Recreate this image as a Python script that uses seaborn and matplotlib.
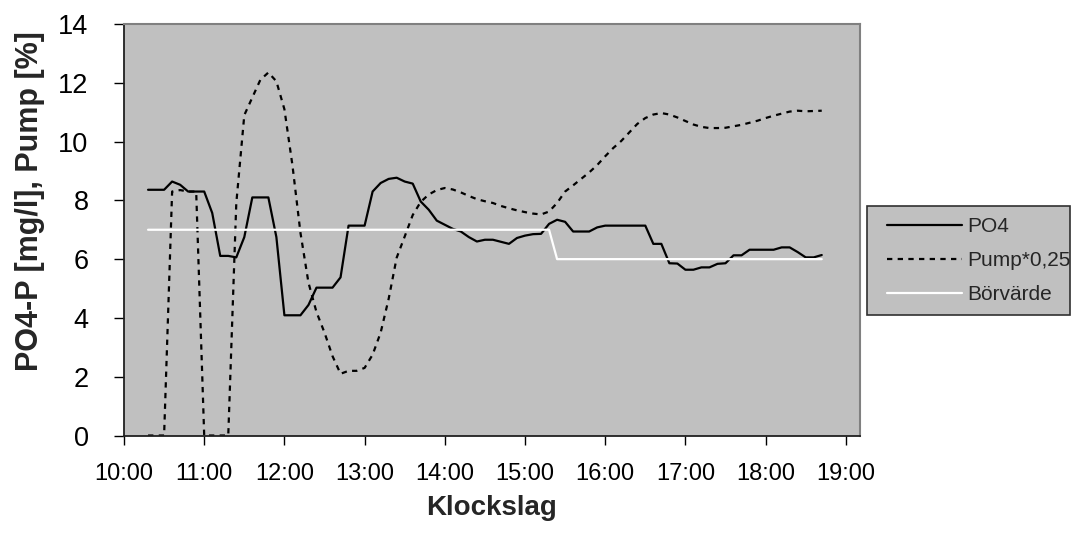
import matplotlib
matplotlib.use("Agg")
import matplotlib.pyplot as plt
from matplotlib.lines import Line2D
from matplotlib.patches import Rectangle
import seaborn as sns
import pandas as pd

# ---------------- data ----------------
times = [
    "10:18", "10:24", "10:30", "10:36", "10:42", "10:48", "10:54", "11:00", "11:06", "11:12",
    "11:18", "11:24", "11:30", "11:36", "11:42", "11:48", "11:54", "12:00", "12:06", "12:12",
    "12:18", "12:24", "12:30", "12:36", "12:42", "12:48", "12:54", "13:00", "13:06", "13:12",
    "13:18", "13:24", "13:30", "13:36", "13:42", "13:48", "13:54", "14:00", "14:06", "14:12",
    "14:18", "14:24", "14:30", "14:36", "14:42", "14:48", "14:54", "15:00", "15:06", "15:12",
    "15:18", "15:24", "15:30", "15:36", "15:42", "15:48", "15:54", "16:00", "16:06", "16:12",
    "16:18", "16:24", "16:30", "16:36", "16:42", "16:48", "16:54", "17:00", "17:06", "17:12",
    "17:18", "17:24", "17:30", "17:36", "17:42", "17:48", "17:54", "18:00", "18:06", "18:12",
    "18:18", "18:24", "18:30", "18:36", "18:42",
]

po4 = [
    8.36, 8.36, 8.36, 8.64, 8.53, 8.30, 8.30, 8.30, 7.57, 6.11,
    6.11, 6.06, 6.75, 8.10, 8.10, 8.10, 6.75, 4.09, 4.09, 4.09,
    4.44, 5.03, 5.03, 5.03, 5.38, 7.14, 7.14, 7.14, 8.30, 8.59,
    8.73, 8.77, 8.64, 8.57, 7.96, 7.68, 7.31, 7.17, 7.03, 6.94,
    6.75, 6.60, 6.66, 6.66, 6.59, 6.52, 6.72, 6.80, 6.85, 6.86,
    7.20, 7.34, 7.27, 6.94, 6.94, 6.94, 7.08, 7.14, 7.14, 7.14,
    7.14, 7.14, 7.14, 6.52, 6.52, 5.86, 5.85, 5.64, 5.64, 5.72,
    5.72, 5.84, 5.86, 6.13, 6.13, 6.32, 6.32, 6.32, 6.32, 6.40,
    6.40, 6.24, 6.06, 6.06, 6.14,
]

pump = [
    0.00, 0.00, 0.00, 8.30, 8.35, 8.30, 8.30, 0.00, 0.00, 0.00,
    0.00, 7.90, 10.90, 11.50, 12.10, 12.35, 12.05, 11.10, 9.20, 6.90,
    5.20, 4.20, 3.50, 2.70, 2.10, 2.20, 2.20, 2.30, 2.75, 3.50,
    4.65, 6.05, 6.77, 7.50, 7.95, 8.20, 8.35, 8.42, 8.37, 8.27,
    8.15, 8.04, 7.97, 7.91, 7.81, 7.73, 7.66, 7.60, 7.55, 7.52,
    7.62, 7.91, 8.30, 8.51, 8.73, 8.95, 9.20, 9.50, 9.78, 10.02,
    10.31, 10.60, 10.80, 10.92, 10.97, 10.92, 10.82, 10.70, 10.58, 10.50,
    10.46, 10.46, 10.47, 10.52, 10.57, 10.64, 10.71, 10.80, 10.88, 10.95,
    11.02, 11.05, 11.03, 11.04, 11.05,
]

borvarde = [
    7, 7, 7, 7, 7, 7, 7, 7, 7, 7,
    7, 7, 7, 7, 7, 7, 7, 7, 7, 7,
    7, 7, 7, 7, 7, 7, 7, 7, 7, 7,
    7, 7, 7, 7, 7, 7, 7, 7, 7, 7,
    7, 7, 7, 7, 7, 7, 7, 7, 7, 7,
    7, 6, 6, 6, 6, 6, 6, 6, 6, 6,
    6, 6, 6, 6, 6, 6, 6, 6, 6, 6,
    6, 6, 6, 6, 6, 6, 6, 6, 6, 6,
    6, 6, 6, 6, 6,
]

series_names = ["PO4", "Pump*0,25", "Börvärde"]
xtick_labels = ["10:00", "11:00", "12:00", "13:00", "14:00",
                "15:00", "16:00", "17:00", "18:00", "19:00"]
ytick_values = [0, 2, 4, 6, 8, 10, 12, 14]
x_title = "Klockslag"
y_title = "PO4-P [mg/l], Pump [%]"

# ---------------- style ----------------
sns.set_style("white")
plt.rcParams["font.family"] = ["Liberation Sans", "DejaVu Sans"]


def to_hours(t):
    h, m = t.split(":")
    return int(h) + int(m) / 60.0


df = pd.DataFrame({
    "t": [to_hours(t) for t in times],
    series_names[0]: po4,
    series_names[1]: pump,
    series_names[2]: borvarde,
})
long = df.melt(id_vars="t", var_name="serie", value_name="v")

colors = {series_names[0]: "black", series_names[1]: "black", series_names[2]: "white"}
dash_map = {series_names[0]: "", series_names[1]: (2.4, 2.4), series_names[2]: ""}

fig = plt.figure(figsize=(10.81, 5.41), dpi=100)
fig.patch.set_facecolor("white")
ax = fig.add_axes([124 / 1081, 1 - 435.5 / 541, 736 / 1081, 411.5 / 541])
ax.set_facecolor("#C0C0C0")

sns.lineplot(data=long, x="t", y="v", hue="serie", style="serie",
             hue_order=series_names, style_order=series_names,
             palette=colors, dashes=dash_map, linewidth=1.6,
             ax=ax, legend=False)

ax.set_xlim(10.0, 19.177)
ax.set_ylim(0, 14)
xt = [to_hours(l) for l in xtick_labels]
ax.set_xticks(xt)
ax.set_xticklabels(xtick_labels)
ax.set_yticks(ytick_values)
ax.set_yticklabels([str(v) for v in ytick_values])

ax.tick_params(axis="x", direction="out", length=6.5, width=1, color="black",
               labelsize=17, pad=13, labelcolor="black", bottom=True)
ax.tick_params(axis="y", direction="out", length=7.5, width=1, color="black",
               labelsize=19.5, pad=18, labelcolor="black", left=True)

for side in ["left", "bottom"]:
    ax.spines[side].set_color("#202020")
    ax.spines[side].set_linewidth(1.3)
for side in ["top", "right"]:
    ax.spines[side].set_color("#808080")
    ax.spines[side].set_linewidth(1.5)

ax.set_xlabel(x_title, fontsize=20, fontweight="bold")
ax.set_ylabel(y_title, fontsize=22, fontweight="bold")
ax.xaxis.set_label_coords(0.5, -0.145)
ax.yaxis.set_label_coords(-0.108, 0.569)

# ---------------- legend ----------------
fig.patches.append(Rectangle((867 / 1081, 1 - 315 / 541), 203 / 1081, 109 / 541,
                             transform=fig.transFigure, facecolor="#C0C0C0",
                             edgecolor="#303030", linewidth=1.2, zorder=0))
handles = [
    Line2D([], [], color=colors[n], linewidth=1.6,
           linestyle=("-" if dash_map[n] == "" else (0, dash_map[n])))
    for n in series_names
]
leg = fig.legend(handles, series_names, loc="upper left",
                 bbox_to_anchor=(887 / 1081, 1 - 217 / 541),
                 frameon=False, fontsize=15, handlelength=3.6,
                 handletextpad=0.25, labelspacing=0.72, borderpad=0,
                 borderaxespad=0)

fig.savefig("out.png", dpi=100)
